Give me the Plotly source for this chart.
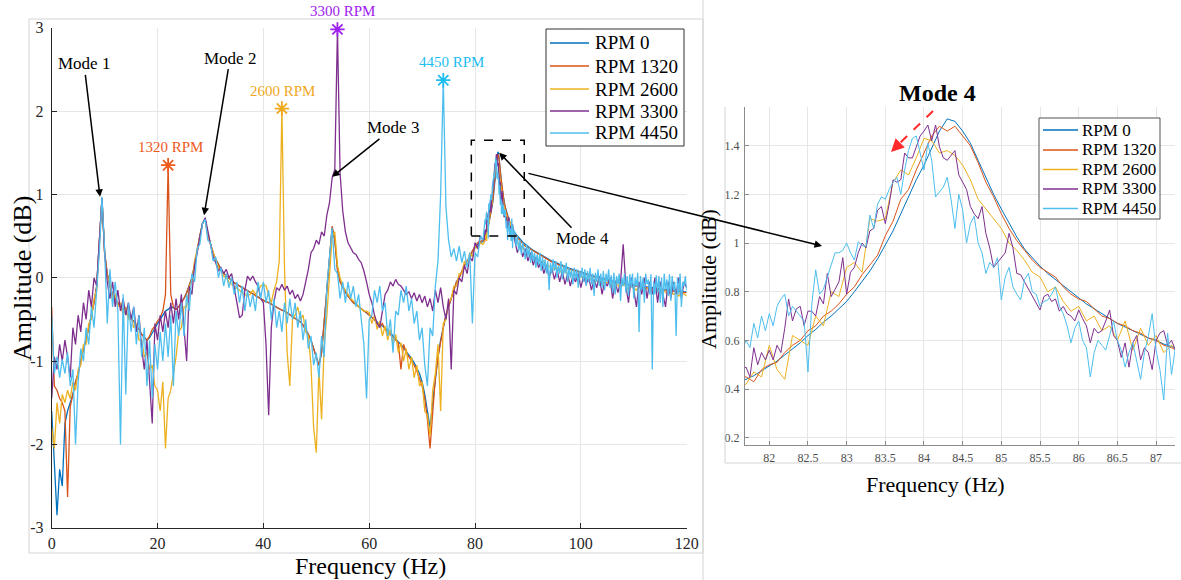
import numpy as np
import plotly.graph_objects as go

W, H = 1181, 580
FONT = "Liberation Serif"

series_names = ["RPM 0", "RPM 1320", "RPM 2600", "RPM 3300", "RPM 4450"]
series_colors = ["#0072BD", "#D95319", "#EDB120", "#7E2F8E", "#4DBEEE"]

# ---- frequency sampling of the tabulated values ----
LO_START, LO_STEP = 0.0, 0.5      # 0 ... 81.5 Hz
HI_START = 87.5                   # 87.5 ... 120 Hz
Z_START = 81.7                    # zoom band 81.7 ... 87.25 Hz

# ---- amplitude (dB), 0 ... 81.5 Hz every 0.5 Hz ----
rpm0_lo = [
    -1.6, -2.2, -2.85, -2.3, -2.5, -1.75, -1.6, -1.5, -1.4, -1.25,
    -1.15, -1.0, -0.85, -0.75, -0.6, -0.45, -0.3, -0.1, 0.4, 0.95,
    0.3, 0.05, -0.1, -0.2, -0.25, -0.3, -0.35, -0.4, -0.42, -0.45,
    -0.5, -0.52, -0.58, -0.62, -0.68, -0.72, -0.75, -0.72, -0.66, -0.6,
    -0.55, -0.5, -0.45, -0.4, -0.38, -0.35, -0.36, -0.38, -0.35, -0.3,
    -0.25, -0.18, -0.1, 0.0, 0.15, 0.35, 0.5, 0.65, 0.7, 0.52,
    0.4, 0.3, 0.22, 0.15, 0.1, 0.05, 0.02, 0.0, -0.03, -0.06,
    -0.08, -0.1, -0.12, -0.14, -0.16, -0.18, -0.2, -0.22, -0.24, -0.25,
    -0.27, -0.29, -0.3, -0.32, -0.34, -0.35, -0.37, -0.39, -0.4, -0.42,
    -0.44, -0.46, -0.48, -0.5, -0.53, -0.57, -0.62, -0.68, -0.75, -0.85,
    -0.95, -1.05, -0.9, -0.5, -0.1, 0.3, 0.6, 0.45, 0.1, -0.05,
    -0.12, -0.18, -0.22, -0.26, -0.3, -0.32, -0.35, -0.38, -0.4, -0.42,
    -0.45, -0.48, -0.5, -0.53, -0.56, -0.58, -0.6, -0.63, -0.66, -0.7,
    -0.73, -0.77, -0.8, -0.84, -0.88, -0.92, -0.97, -1.02, -1.08, -1.15,
    -1.25, -1.4, -1.6, -1.8, -1.5, -1.2, -0.95, -0.75, -0.6, -0.45,
    -0.35, -0.25, -0.15, -0.05, 0.0, 0.08, 0.15, 0.2, 0.25, 0.32,
    0.36, 0.4, 0.42, 0.43,
]
rpm1320_lo = [
    -0.35, -1.3, -1.35, -1.45, -1.5, -1.6, -2.63, -1.55, -1.4, -1.25,
    -1.15, -1.0, -0.85, -0.75, -0.6, -0.45, -0.3, -0.1, 0.4, 0.95,
    0.3, 0.05, -0.1, -0.2, -0.25, -0.3, -0.35, -0.4, -0.42, -0.45,
    -0.5, -0.52, -0.58, -0.62, -0.68, -0.72, -0.75, -0.7, -0.62, -0.58,
    -0.52, -0.48, -0.4, -0.2, 1.35, -0.2, -0.35, -0.38, -0.35, -0.3,
    -0.25, -0.18, -0.1, 0.0, 0.15, 0.35, 0.5, 0.65, 0.7, 0.52,
    0.4, 0.3, 0.22, 0.15, 0.1, 0.05, 0.02, 0.0, -0.03, -0.06,
    -0.08, -0.1, -0.12, -0.14, -0.16, -0.18, -0.2, -0.22, -0.24, -0.25,
    -0.27, -0.29, -0.3, -0.32, -0.34, -0.35, -0.37, -0.39, -0.4, -0.42,
    -0.44, -0.46, -0.48, -0.5, -0.53, -0.57, -0.62, -0.68, -0.75, -0.85,
    -0.95, -1.05, -0.9, -0.5, -0.1, 0.3, 0.62, 0.45, 0.1, -0.05,
    -0.12, -0.18, -0.22, -0.26, -0.3, -0.32, -0.35, -0.38, -0.4, -0.42,
    -0.45, -0.48, -0.5, -0.55, -0.58, -0.55, -0.62, -0.65, -0.68, -0.72,
    -0.75, -0.78, -1.1, -0.8, -0.9, -0.95, -1.0, -1.05, -1.12, -1.2,
    -1.3, -1.45, -1.7, -2.05, -1.6, -1.2, -0.95, -0.75, -0.6, -0.45,
    -0.35, -0.25, -0.15, -0.05, 0.0, 0.08, 0.15, 0.2, 0.25, 0.32,
    0.38, 0.42, 0.44, 0.45,
]
rpm2600_lo = [
    -1.8, -2.05, -1.5, -1.75, -1.4, -1.5, -1.35, -1.45, -1.25, -1.35,
    -1.1, -1.05, -0.8, -0.8, -0.55, -0.5, -0.25, -0.15, 0.4, 0.95,
    0.3, 0.0, -0.05, -0.25, -0.2, -0.35, -0.3, -0.45, -0.35, -0.5,
    -0.45, -0.6, -0.55, -0.75, -0.75, -0.95, -0.9, -1.1, -1.05, -1.3,
    -1.35, -1.6, -1.25, -2.05, -1.45, -1.35, -1.15, -0.95, -0.65, -0.6,
    -0.35, -0.35, -0.1, -0.05, 0.2, 0.35, 0.5, 0.65, 0.7, 0.5,
    0.4, 0.3, 0.2, 0.12, 0.08, 0.02, 0.0, -0.05, -0.08, -0.1,
    -0.12, -0.15, -0.18, -0.2, -0.22, -0.2, -0.15, -0.2, -0.15, -0.1,
    -0.08, -0.1, -0.2, -0.3, -0.15, -0.05, 0.2, 2.03, 0.1, -0.9,
    -1.3, -0.5, -0.45, -0.35, -0.5, -0.45, -0.65, -0.7, -1.05, -1.8,
    -2.1, -1.1, -1.7, -0.8, -0.45, 0.1, 0.5, 0.55, 0.15, 0.0,
    -0.1, -0.15, -0.2, -0.25, -0.28, -0.3, -0.35, -0.38, -0.4, -0.4,
    -0.42, -0.55, -0.45, -0.62, -0.52, -0.7, -0.58, -0.75, -0.62, -0.8,
    -0.68, -0.9, -0.78, -1.0, -0.85, -1.1, -0.95, -1.2, -1.05, -1.3,
    -1.25, -1.6, -1.65, -1.9, -1.35, -1.15, -0.8, -1.6, -0.55, -0.5,
    -0.3, -0.25, -0.1, -0.1, 0.05, 0.05, 0.2, 0.15, 0.3, 0.25,
    0.38, 0.35, 0.42, 0.4,
]
rpm3300_lo = [
    -1.45, -0.95, -1.1, -0.8, -1.0, -0.75, -0.95, -1.2, -0.6, -0.8,
    -0.45, -0.65, -0.3, -0.5, -0.15, -0.35, 0.0, -0.1, 0.45, 0.95,
    0.3, -0.05, -0.25, -0.05, -0.35, -0.15, -0.4, -0.25, -0.45, -0.3,
    -0.5, -0.35, -0.65, -0.45, -0.85, -1.1, -0.75, -1.25, -1.75, -0.55,
    -0.75, -0.45, -0.65, -0.4, -0.6, -0.3, -0.55, -0.25, -0.5, -0.2,
    -0.55, -1.0, -0.1, -0.2, 0.15, 0.3, 0.5, 0.65, 0.72, 0.55,
    0.4, 0.25, 0.18, 0.08, 0.12, 0.05, 0.1, 0.0, 0.05, -0.15,
    -0.3, -0.48, -0.45, -0.15, 0.02, -0.03, 0.02, -0.05, -0.1, -0.25,
    -0.3, -0.8, -1.65, -0.6, -0.3, -0.12, -0.15, -0.08, -0.15, -0.1,
    -0.2, -0.15, -0.25, -0.2, -0.28, -0.2, -0.05, 0.1, 0.3, 0.35,
    0.45, 0.4, 0.55, 0.5, 0.75, 0.9, 1.2, 1.3, 2.98, 1.25,
    0.8, 0.55, 0.42, 0.35, 0.3, 0.28, 0.22, 0.18, 0.08, -0.05,
    -0.2, -0.3, -0.45, -0.55, -0.6, -0.4, -0.2, -0.15, -0.05, -0.1,
    -0.02, -0.08, -0.1, -0.15, -0.2, -0.17, -0.25, -0.18, -0.28, -0.2,
    -0.3, -0.22, -0.35, -0.25, -0.4, -0.15, -0.3, -0.12, -0.35, -0.5,
    -0.25, -1.1, -0.15, -0.2, 0.0, -0.05, 0.15, 0.05, 0.25, 0.2,
    0.42, 0.35, 0.5, 0.45,
]
rpm4450_lo = [
    -0.45, -1.15, -0.95, -1.2, -0.98, -1.15, -0.9, -1.3, -1.1, -2.0,
    -1.25, -0.85, -1.0, -0.6, -0.8, -0.35, -0.6, -0.1, 0.3, 0.97,
    0.35, -0.55, 0.1, -0.35, -0.05, -0.4, -2.0, -0.2, -1.4, -0.3,
    -0.65, -0.35, -0.8, -0.45, -0.95, -0.6, -1.3, -0.75, -1.45, -0.8,
    -1.1, -0.65, -1.0, -0.55, -0.95, -0.45, -1.3, -0.4, -0.7, -0.3,
    -0.7, -0.2, -0.4, 0.05, -0.05, 0.35, 0.4, 0.65, 0.7, 0.45,
    0.42, 0.2, 0.25, 0.0, 0.12, -0.1, 0.05, -0.12, 0.0, -0.2,
    -0.05, -0.3, -0.1, -0.4, -0.15, -0.35, -0.2, -0.4, -0.05, -0.25,
    -0.05, -0.3, -0.15, -0.5, -0.25, -0.6, -0.4, -0.65, -0.3, -0.55,
    -0.25, -0.5, -0.3, -0.6, -0.4, -0.75, -0.5, -0.85, -0.7, -1.05,
    -0.9, -1.2, -0.7, -0.95, -0.1, 0.25, 0.6, 0.1, 0.05, -0.25,
    -0.05, -0.3, -0.05, -0.25, -0.1, -0.35, -0.2, -0.5, -0.8, -1.45,
    -0.5, -0.45, -0.15, -0.3, -0.1, -0.4, -0.3, -0.7, -0.5, -0.9,
    -0.4, -0.45, -0.15, -0.3, -0.1, -0.4, -0.25, -0.55, -0.4, -0.75,
    -0.6, -1.05, -1.3, -0.6, -0.7, -0.1, 0.2, 1.0, 2.37, 0.85,
    0.45, 0.25, 0.35, 0.2, 0.38, 0.18, 0.32, 0.12, 0.3, -0.55,
    0.3, 0.25, 0.5, 0.45,
]

# ---- amplitude (dB), zoom band (Mode 4) ----
rpm0_z = [
    0.44, 0.455, 0.475, 0.495, 0.515, 0.54, 0.565, 0.59, 0.62, 0.645,
    0.675, 0.70, 0.73, 0.76, 0.80, 0.84, 0.885, 0.935, 0.99, 1.05,
    1.12, 1.19, 1.26, 1.32, 1.39, 1.46, 1.51, 1.50, 1.46, 1.41,
    1.34, 1.27, 1.20, 1.14, 1.08, 1.025, 0.975, 0.94, 0.905, 0.875,
    0.85, 0.825, 0.80, 0.775, 0.75, 0.73, 0.71, 0.69, 0.67, 0.655,
    0.64, 0.625, 0.61, 0.60, 0.585, 0.575,
]
rpm1320_z = [
    0.45, 0.43, 0.48, 0.50, 0.51, 0.55, 0.58, 0.60, 0.64, 0.66,
    0.70, 0.72, 0.75, 0.79, 0.82, 0.87, 0.91, 0.95, 1.03, 1.09,
    1.18, 1.22, 1.30, 1.37, 1.44, 1.48, 1.46, 1.48, 1.44, 1.40,
    1.33, 1.25, 1.19, 1.12, 1.06, 1.01, 0.97, 0.93, 0.90, 0.88,
    0.86, 0.82, 0.79, 0.77, 0.76, 0.73, 0.70, 0.69, 0.67, 0.66,
    0.64, 0.63, 0.61, 0.60, 0.58, 0.57,
]
rpm2600_z = [
    0.42, 0.47, 0.45, 0.58, 0.48, 0.44, 0.62, 0.60, 0.58, 0.70,
    0.66, 0.80, 0.78, 0.90, 0.92, 0.88, 1.10, 1.09, 1.10, 1.25,
    1.30, 1.28, 1.35, 1.43, 1.42, 1.37, 1.38, 1.36, 1.32, 1.26,
    1.18, 1.14, 1.10, 1.06, 1.00, 0.97, 0.93, 0.88, 0.86, 0.80,
    0.82, 0.76, 0.72, 0.74, 0.68, 0.70, 0.64, 0.66, 0.60, 0.68,
    0.56, 0.65, 0.58, 0.62, 0.55, 0.58,
]
rpm3300_z = [
    0.49, 0.45, 0.57, 0.50, 0.55, 0.52, 0.56, 0.52, 0.58, 0.55, 0.65, 0.77, 0.68, 0.73, 0.74, 0.66, 0.72, 0.72, 0.70, 0.78,
    0.75, 0.875, 0.78, 0.81, 0.84, 0.94, 0.79, 0.88, 0.90, 0.96, 1.0, 0.98, 1.05, 1.06, 1.135, 1.15, 1.08, 1.16, 1.26, 1.25,
    1.26, 1.37, 1.35, 1.35, 1.40, 1.44, 1.46, 1.485, 1.42, 1.485, 1.395, 1.35, 1.34, 1.36, 1.38, 1.28, 1.25, 1.22, 1.15, 1.12,
    1.10, 1.15, 1.04, 0.98, 0.90, 0.92, 0.94, 0.96, 1.04, 0.98, 0.875, 0.87, 0.84, 0.81, 0.78, 0.75, 0.725, 0.78, 0.79, 0.76,
    0.77, 0.72, 0.74, 0.71, 0.70, 0.68, 0.725, 0.69, 0.66, 0.59, 0.65, 0.63, 0.64, 0.68, 0.725, 0.62, 0.60, 0.53, 0.59, 0.49,
    0.59, 0.62, 0.52, 0.57, 0.55, 0.48, 0.60, 0.63, 0.64, 0.58, 0.60, 0.56,
]
rpm4450_z = [
    0.60, 0.57, 0.67, 0.61, 0.70, 0.64, 0.71, 0.66, 0.74, 0.77, 0.79, 0.70, 0.74, 0.72, 0.70, 0.68, 0.47, 0.75, 0.89, 0.79,
    0.81, 0.86, 0.92, 0.96, 0.96, 0.97, 1.0, 0.96, 0.93, 1.005, 0.99, 0.985, 1.115, 1.06, 1.16, 1.19, 1.18, 1.22, 1.25, 1.27,
    1.20, 1.30, 1.38, 1.43, 1.44, 1.37, 1.30, 1.41, 1.34, 1.19, 1.21, 1.23, 1.27, 1.18, 1.06, 1.20, 1.135, 1.0, 1.08, 1.11,
    1.0, 0.96, 0.875, 0.92, 0.90, 0.94, 0.766, 0.86, 0.90, 0.82, 0.79, 0.766, 0.85, 0.875, 0.80, 0.79, 0.74, 0.76, 0.766, 0.79,
    0.82, 0.74, 0.71, 0.66, 0.59, 0.65, 0.68, 0.60, 0.57, 0.45, 0.55, 0.60, 0.58, 0.56, 0.62, 0.68, 0.60, 0.56, 0.49, 0.55,
    0.59, 0.52, 0.44, 0.55, 0.615, 0.71, 0.56, 0.48, 0.355, 0.63, 0.46, 0.57,
]

# ---- amplitude (dB), 87.5 ... 120 Hz ----
rpm0_hi = [
    0.54, 0.5, 0.46, 0.43, 0.4, 0.37, 0.35, 0.33, 0.31, 0.29,
    0.27, 0.25, 0.23, 0.22, 0.2, 0.19, 0.17, 0.16, 0.15, 0.13,
    0.12, 0.11, 0.1, 0.09, 0.08, 0.07, 0.06, 0.05, 0.04, 0.03,
    0.02, 0.01, 0.0, -0.01, -0.01, -0.02, -0.03, -0.04, -0.04, -0.05,
    -0.06, -0.06, -0.07, -0.08, -0.08, -0.09, -0.09, -0.1, -0.1, -0.11,
    -0.11, -0.12, -0.12, -0.13, -0.13, -0.14, -0.14, -0.14, -0.15, -0.15,
    -0.15, -0.16, -0.16, -0.16, -0.17, -0.17,
]
rpm1320_hi = [
    0.52, 0.48, 0.44, 0.41, 0.38, 0.36, 0.34, 0.32, 0.3, 0.28,
    0.26, 0.24, 0.22, 0.21, 0.19, 0.18, 0.16, 0.15, 0.14, 0.12,
    0.11, 0.1, 0.09, 0.08, 0.07, 0.06, 0.05, 0.04, 0.03, 0.02,
    0.01, 0.0, -0.01, -0.02, -0.02, -0.03, -0.04, -0.05, -0.05, -0.06,
    -0.07, -0.07, -0.08, -0.09, -0.09, -0.1, -0.1, -0.11, -0.11, -0.12,
    -0.12, -0.13, -0.13, -0.14, -0.14, -0.15, -0.15, -0.15, -0.16, -0.16,
    -0.16, -0.17, -0.17, -0.17, -0.18, -0.18,
]
rpm2600_hi = [
    0.5, 0.42, 0.4, 0.35, 0.33, 0.3, 0.28, 0.25, 0.22, 0.22,
    0.18, 0.2, 0.15, 0.14, 0.12, 0.1, 0.12, 0.08, 0.06, 0.08,
    0.04, 0.06, 0.02, 0.03, 0.0, 0.02, -0.02, 0.0, -0.03, -0.01,
    -0.05, -0.03, -0.06, -0.04, -0.08, -0.05, -0.07, -0.1, -0.06, -0.09,
    -0.12, -0.08, -0.1, -0.14, -0.1, -0.12, -0.15, -0.1, -0.13, -0.16,
    -0.12, -0.15, -0.18, -0.13, -0.16, -0.2, -0.15, -0.18, -0.2, -0.16,
    -0.2, -0.18, -0.22, -0.17, -0.2, -0.22,
]
rpm3300_hi = [
    0.45, 0.3, 0.4, 0.25, 0.35, 0.2, 0.3, 0.15, 0.25, 0.12,
    0.2, 0.05, 0.15, 0.0, 0.12, -0.02, 0.1, -0.05, 0.08, -0.08,
    0.05, -0.1, 0.02, -0.05, 0.05, -0.12, 0.02, -0.08, 0.0, -0.15,
    -0.02, -0.12, 0.02, -0.2, -0.05, -0.1, 0.0, -0.25, -0.05, -0.18,
    -0.05, 0.4, -0.1, -0.3, 0.0, -0.15, -0.35, -0.05, -0.2, 0.0,
    -0.25, -0.05, -0.2, 0.0, -0.3, -0.05, -0.2, -0.35, -0.05, -0.25,
    -0.05, -0.2, 0.0, -0.25, -0.05, -0.12,
]
rpm4450_hi = [  # every 0.25 Hz, one row per Hz
    0.55, 0.38, 0.5, 0.32,
    0.45, 0.28, 0.42, 0.35,
    0.22, 0.4, 0.25, 0.36,
    0.18, 0.33, 0.2, 0.3,
    0.12, 0.28, 0.15, 0.3,
    0.08, 0.25, 0.1, 0.22,
    0.05, 0.2, -0.15, 0.18,
    0.05, 0.22, 0.08, 0.2,
    0.0, 0.15, 0.05, 0.2,
    -0.02, 0.15, 0.05, 0.18,
    -0.05, 0.12, 0.0, 0.1,
    -0.08, 0.12, -0.02, 0.1,
    -0.12, 0.08, 0.0, 0.12,
    -0.05, 0.1, -0.1, 0.08,
    -0.05, 0.12, -0.08, 0.05,
    -0.22, 0.06, -0.05, 0.1,
    -0.1, 0.05, -0.12, 0.08,
    -0.15, 0.05, -0.05, 0.1,
    -0.12, 0.03, -0.18, 0.06,
    -0.2, 0.02, -0.08, 0.05,
    -0.28, 0.0, -0.1, 0.05,
    -0.18, 0.02, -0.22, 0.04,
    -0.12, 0.05, -0.25, 0.0,
    -0.1, 0.06, -0.65, 0.02,
    -0.15, 0.0, -0.3, 0.05,
    -0.08, -0.02, -0.2, 0.04,
    -1.1, -0.05, -0.2, 0.03,
    -0.18, 0.02, -0.3, 0.0,
    -0.35, 0.05, -0.15, -0.02,
    -0.22, 0.04, -0.28, 0.02,
    -0.15, -0.05, -0.7, 0.0,
    -0.2, 0.05, -0.35, -0.05,
    -0.1, 0.02, -0.15,
]

series_lo = [rpm0_lo, rpm1320_lo, rpm2600_lo, rpm3300_lo, rpm4450_lo]
series_z = [rpm0_z, rpm1320_z, rpm2600_z, rpm3300_z, rpm4450_z]
series_z_step = [0.1, 0.1, 0.1, 0.05, 0.05]
series_hi = [rpm0_hi, rpm1320_hi, rpm2600_hi, rpm3300_hi, rpm4450_hi]
series_hi_step = [0.5, 0.5, 0.5, 0.5, 0.25]

# excitation peaks labelled in the plot (series index, label, colour)
peak_series = [1, 2, 3, 4]
peak_labels = ["1320 RPM", "2600 RPM", "3300 RPM", "4450 RPM"]
peak_colors = ["#EE5A1C", "#F0A81C", "#A020F0", "#1DBDF0"]
peak_xshift = [2, 1, 5, 8]

# axis ticks
main_xticks = [0, 20, 40, 60, 80, 100, 120]
main_yticks = [-3, -2, -1, 0, 1, 2, 3]
zoom_xticks = [82, 82.5, 83, 83.5, 84, 84.5, 85, 85.5, 86, 86.5, 87]
zoom_yticks = [0.2, 0.4, 0.6, 0.8, 1.0, 1.2, 1.4]


def fmt(v):
    return "%g" % v


def lo_x(i):
    return LO_START + LO_STEP * np.arange(len(series_lo[i]))


def build(i):
    lo = np.asarray(series_lo[i], float)
    z = np.asarray(series_z[i], float)
    hi = np.asarray(series_hi[i], float)
    x_z = Z_START + series_z_step[i] * np.arange(len(z))
    x_hi = HI_START + series_hi_step[i] * np.arange(len(hi))
    return np.round(np.concatenate([lo_x(i), x_z, x_hi]), 3), np.concatenate([lo, z, hi])


def PX(x):
    return x / W


def PY(y):
    return 1 - y / H


fig = go.Figure()

data = [build(i) for i in range(5)]
for i in range(5):
    x, y = data[i]
    fig.add_trace(go.Scatter(x=x, y=y, mode="lines", name=series_names[i],
                             line=dict(color=series_colors[i], width=1.3),
                             xaxis="x", yaxis="y", showlegend=False, hoverinfo="skip"))
for i in range(5):
    x, y = data[i]
    fig.add_trace(go.Scatter(x=x, y=y, mode="lines", name=series_names[i],
                             line=dict(color=series_colors[i], width=1.0),
                             xaxis="x2", yaxis="y2", showlegend=False, hoverinfo="skip"))

annotations = []
shapes = []

# peak stars + labels (excitation peak = max below the mode-4 band)
for k, si in enumerate(peak_series):
    xl = lo_x(si)
    yl = np.asarray(series_lo[si], float)
    j = int(np.argmax(yl))
    c = peak_colors[k]
    fig.add_trace(go.Scatter(x=[xl[j]], y=[yl[j]], mode="markers",
                             marker=dict(symbol="asterisk-open", size=12, color=c,
                                         line=dict(color=c, width=1.8)),
                             cliponaxis=False, showlegend=False, hoverinfo="skip",
                             xaxis="x", yaxis="y"))
    annotations.append(dict(x=xl[j], y=yl[j], xref="x", yref="y", text=peak_labels[k],
                            showarrow=False, yshift=18, xshift=peak_xshift[k],
                            xanchor="center", yanchor="middle",
                            font=dict(family=FONT, size=15, color=c)))

# mode annotations (arrow heads at the peaks)
mode_notes = [
    ("Mode 1", 9.13, 0.97, -16, -133),
    ("Mode 2", 28.8, 0.75, 26, -157),
    ("Mode 3", 53.0, 1.21, 61, -49),
    ("Mode 4", 84.56, 1.5, 83, 86),
]
for t, hx, hy, ax, ay in mode_notes:
    annotations.append(dict(x=hx, y=hy, xref="x", yref="y", text=t, showarrow=True,
                            ax=ax, ay=ay, arrowhead=2, arrowsize=1, arrowwidth=1.5,
                            arrowcolor="black", standoff=0,
                            xanchor="center", yanchor="middle",
                            font=dict(family=FONT, size=17, color="black")))

# dashed zoom box
shapes.append(dict(type="rect", xref="x", yref="y", x0=79.3, x1=89.3, y0=0.5, y1=1.65,
                   line=dict(color="black", width=1.5, dash="dash")))

# long arrow to the inset
annotations.append(dict(x=PX(822), y=PY(246), xref="paper", yref="paper", text="",
                        showarrow=True, ax=-295, ay=-73, arrowhead=2, arrowsize=1,
                        arrowwidth=1.5, arrowcolor="black"))

# red dashed arrow in the inset
shapes.append(dict(type="line", xref="paper", yref="paper", x0=PX(933), y0=PY(111),
                   x1=PX(899), y1=PY(144), line=dict(color="#FF2A2A", width=2, dash="dash")))
annotations.append(dict(x=PX(891), y=PY(152), xref="paper", yref="paper", text="",
                        showarrow=True, ax=8, ay=-8, arrowhead=2, arrowsize=1.3,
                        arrowwidth=2, arrowcolor="#FF2A2A"))

# figure frames (light)
FR = "#d4d4d4"
shapes.append(dict(type="rect", xref="paper", yref="paper", x0=PX(29), x1=PX(703),
                   y0=PY(553), y1=PY(19), line=dict(color=FR, width=1)))
shapes.append(dict(type="line", xref="paper", yref="paper", x0=PX(703), x1=PX(703),
                   y0=0, y1=1, line=dict(color=FR, width=1)))
shapes.append(dict(type="line", xref="paper", yref="paper", x0=PX(725), x1=PX(725),
                   y0=PY(463), y1=PY(107), line=dict(color=FR, width=1)))
shapes.append(dict(type="line", xref="paper", yref="paper", x0=PX(725), x1=1,
                   y0=PY(463), y1=PY(463), line=dict(color=FR, width=1)))

# axis titles
annotations += [
    dict(x=PX(370), y=PY(566), text="Frequency (Hz)", textangle=0,
         font=dict(family=FONT, size=24, color="black")),
    dict(x=PX(22), y=PY(279), text="Amplitude (dB)", textangle=-90,
         font=dict(family=FONT, size=26, color="black")),
    dict(x=PX(935), y=PY(484), text="Frequency (Hz)", textangle=0,
         font=dict(family=FONT, size=22, color="black")),
    dict(x=PX(708), y=PY(279), text="Amplitude (dB)", textangle=-90,
         font=dict(family=FONT, size=22, color="black")),
    dict(x=PX(937), y=PY(93), text="<b>Mode 4</b>", textangle=0,
         font=dict(family=FONT, size=24, color="black")),
]
for a in annotations[-5:]:
    a.update(xref="paper", yref="paper", showarrow=False, xanchor="center",
             yanchor="middle", borderpad=0)


def add_legend(x0, y0, x1, y1, lx0, lx1, tx, rows, fsize, lw, border):
    shapes.append(dict(type="rect", xref="paper", yref="paper", x0=PX(x0), x1=PX(x1),
                       y0=PY(y1), y1=PY(y0), fillcolor="white",
                       line=dict(color=border, width=1)))
    for i, ry in enumerate(rows):
        shapes.append(dict(type="line", xref="paper", yref="paper", x0=PX(lx0), x1=PX(lx1),
                           y0=PY(ry), y1=PY(ry), line=dict(color=series_colors[i], width=lw)))
        annotations.append(dict(x=PX(tx), y=PY(ry), xref="paper", yref="paper",
                                text=series_names[i], showarrow=False, xanchor="left",
                                yanchor="middle", font=dict(family=FONT, size=fsize, color="black")))


add_legend(546, 29, 684, 146, 550, 589, 593, [43, 66, 89, 111, 133], 19, 1.6, "#303030")
add_legend(1039, 118, 1160, 219, 1043, 1078, 1080, [130, 150, 169.5, 189, 208.5], 17, 1.3, "#505050")

axis_common = dict(showgrid=True, gridcolor="#e6e6e6", gridwidth=1, zeroline=False,
                   showline=True, ticks="inside", mirror=False, automargin=False)

fig.update_layout(
    template="none",
    width=W, height=H, autosize=False,
    margin=dict(l=0, r=0, t=0, b=0, pad=0),
    paper_bgcolor="white", plot_bgcolor="white",
    showlegend=False,
    xaxis=dict(domain=[PX(51.7), PX(686.7)], range=[0, 120], anchor="y",
               tickvals=main_xticks, ticktext=[fmt(v) for v in main_xticks],
               linecolor="#262626", linewidth=1, ticklen=5, tickcolor="#262626",
               tickfont=dict(family=FONT, size=16, color="#262626"),
               ticklabelstandoff=1, **axis_common),
    yaxis=dict(domain=[PY(527.7), PY(27.7)], range=[-3, 3], anchor="x",
               tickvals=main_yticks, ticktext=[fmt(v) for v in main_yticks],
               linecolor="#262626", linewidth=1, ticklen=5, tickcolor="#262626",
               tickfont=dict(family=FONT, size=16, color="#262626"),
               ticklabelstandoff=4, **axis_common),
    xaxis2=dict(domain=[PX(745), PX(1175)], range=[81.686, 87.245], anchor="y2",
                tickvals=zoom_xticks, ticktext=[fmt(v) for v in zoom_xticks],
                linecolor="#8c8c8c", linewidth=1, ticklen=4, tickcolor="#8c8c8c",
                tickfont=dict(family=FONT, size=12, color="#4d4d4d"),
                ticklabelstandoff=1, **axis_common),
    yaxis2=dict(domain=[PY(445.3), PY(107)], range=[0.169, 1.559], anchor="x2",
                tickvals=zoom_yticks, ticktext=[fmt(v) for v in zoom_yticks],
                linecolor="#8c8c8c", linewidth=1, ticklen=4, tickcolor="#8c8c8c",
                tickfont=dict(family=FONT, size=12, color="#4d4d4d"),
                ticklabelstandoff=2, **axis_common),
    annotations=annotations,
    shapes=shapes,
)

fig.write_html("out.html")
